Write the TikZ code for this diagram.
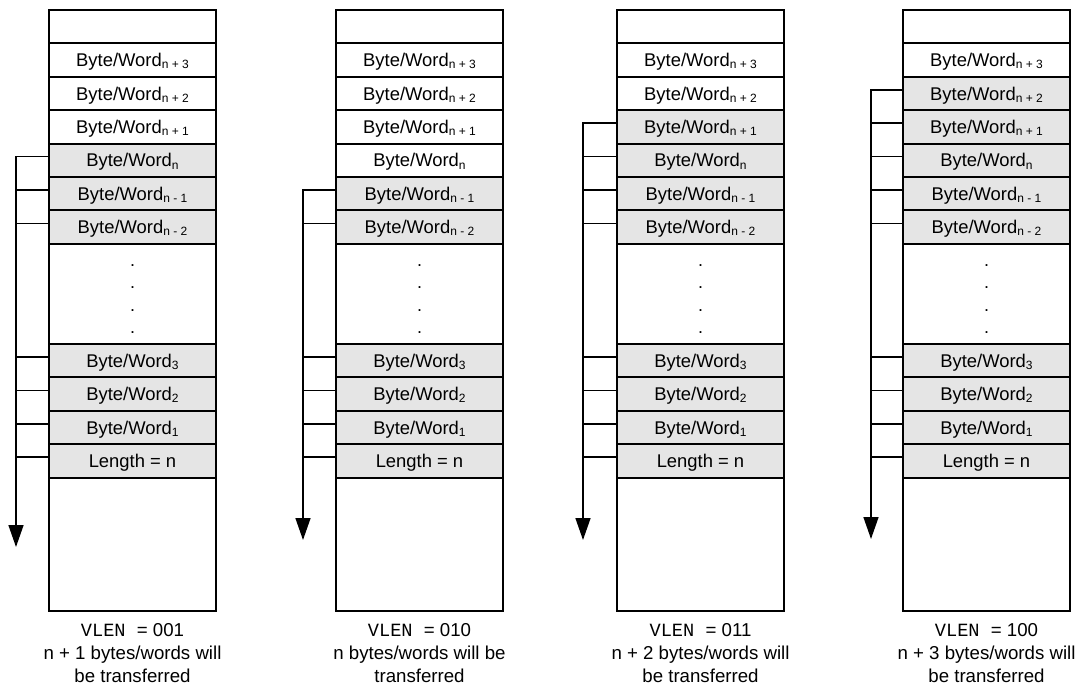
\documentclass[tikz,border=0pt]{standalone}
\usepackage{fontspec}
\setmainfont{Liberation Sans}
\setmonofont{Liberation Mono}
\usetikzlibrary{arrows.meta}

\newcommand{\sbs}[1]{\raisebox{-1.6pt}{\fontsize{9}{10}\selectfont #1}}

% #1 name, #2 left x, #3 spine x, #4 first gray row, #5 arrow tip y,
% #6 VLEN code, #7 second label line, #8 third label line
\newcommand{\memcol}[8]{%
  \node[cell, fill=white] (#1r0) at (#2,10) {};
  \ifnum1<#4 \def\fc{white}\else\def\fc{gray!20}\fi
  \node[cell, fill=\fc] (#1r1) at (#2,43.4) {Byte/Word\sbs{n + 3}};
  \ifnum2<#4 \def\fc{white}\else\def\fc{gray!20}\fi
  \node[cell, fill=\fc] (#1r2) at (#2,76.8) {Byte/Word\sbs{n + 2}};
  \ifnum3<#4 \def\fc{white}\else\def\fc{gray!20}\fi
  \node[cell, fill=\fc] (#1r3) at (#2,110.2) {Byte/Word\sbs{n + 1}};
  \ifnum4<#4 \def\fc{white}\else\def\fc{gray!20}\fi
  \node[cell, fill=\fc] (#1r4) at (#2,143.6) {Byte/Word\sbs{n}};
  \node[cell, fill=gray!20] (#1r5) at (#2,177) {Byte/Word\sbs{n - 1}};
  \node[cell, fill=gray!20] (#1r6) at (#2,210.4) {Byte/Word\sbs{n - 2}};
  \node[cell, fill=white, minimum height=75.15pt] (#1dots) at (#2,243.8) {};
  \foreach \d [count=\i] in {266,288.5,311,333.5}
    \node[dotlab] (#1dot\i) at (#2+83.5,\d) {.};
  \node[cell, fill=gray!20] (#1r10) at (#2,344) {Byte/Word\sbs{3}};
  \node[cell, fill=gray!20] (#1r11) at (#2,377.4) {Byte/Word\sbs{2}};
  \node[cell, fill=gray!20] (#1r12) at (#2,410.8) {Byte/Word\sbs{1}};
  \node[cell, fill=gray!20] (#1r13) at (#2,444.2) {Length = n};
  \node[cell, fill=white, minimum height=100.2pt] (#1end) at (#2,477.6) {};
  % connectors
  \coordinate (#1tip) at (#3,#5);
  \coordinate (#1top) at ([yshift=2.8pt]#1r#4.west -| #1tip);
  \draw[spine] ([yshift=2.8pt]#1r#4.west) -- (#1top) -- (#1tip);
  \foreach \k in {#4,...,6}
    \draw[tick] ([yshift=2.8pt]#1r\k.west) -- ([yshift=2.8pt]#1r\k.west -| #1tip);
  \foreach \k in {10,...,13}
    \draw[tick] ([yshift=2.8pt]#1r\k.west) -- ([yshift=2.8pt]#1r\k.west -| #1tip);
  % labels
  \node[lab] (#1la) at (#2+83.5,636.7) {{\ttfamily VLEN }= #6};
  \node[lab] (#1lb) at (#2+83.5,659.5) {#7};
  \node[lab] (#1lc) at (#2+83.5,682) {#8};
}

\begin{document}
\begin{tikzpicture}[x=0.75pt,y=-0.75pt,
  cell/.style={draw=black, line width=1.5pt, minimum width=125.25pt,
    minimum height=25.05pt, inner sep=0pt, outer sep=0pt,
    font=\fontsize{13.8}{15}\selectfont, text height=9.9pt, text depth=0pt,
    anchor=north west},
  spine/.style={line width=1.1pt, -{Triangle[length=16.5pt,width=11.25pt]}},
  tick/.style={line width=1.1pt},
  lab/.style={font=\fontsize{14}{16}\selectfont, anchor=base, inner sep=0pt},
  dotlab/.style={font=\fontsize{13.5}{15}\selectfont, anchor=base, inner sep=0pt}]
  \useasboundingbox (0,0) rectangle (1076,686);
  \memcol{ca}{49}{16}{4}{547}{001}{n + 1 bytes/words will}{be transferred}
  \memcol{cb}{336}{303}{5}{540}{010}{n bytes/words will be}{transferred}
  \memcol{cc}{617}{583}{3}{540}{011}{n + 2 bytes/words will}{be transferred}
  \memcol{cd}{903}{871}{2}{539}{100}{n + 3 bytes/words will}{be transferred}
\end{tikzpicture}
\end{document}
